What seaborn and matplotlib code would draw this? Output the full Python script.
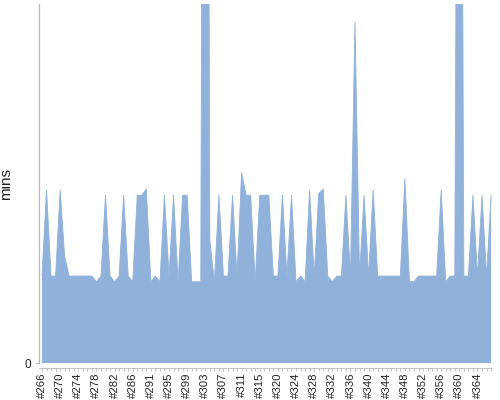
import matplotlib
matplotlib.use("Agg")
import matplotlib.pyplot as plt
import pandas as pd
import seaborn as sns

# run ids (two ids are missing from the sequence: 289 and 318)
run_ids = [i for i in range(266, 370) if i not in (289, 318)][:100]
run_labels = [f"#{i}" for i in run_ids]

# minutes per run
mins = [
    10.0, 19.9, 10.0, 10.0, 19.9, 12.2, 10.0, 10.0, 10.0, 10.0,
    10.0, 10.0, 9.35, 10.0, 19.3, 10.0, 9.35, 10.0, 19.3, 10.0,
    9.35, 19.3, 19.3, 20.0, 9.35, 10.0, 9.35, 19.3, 10.0, 19.3,
    9.35, 19.3, 19.3, 9.35, 9.35, 9.35, 184.0, 14.1, 9.35, 19.3,
    10.0, 10.0, 19.3, 10.0, 21.9, 19.3, 19.3, 9.35, 19.3, 19.3,
    19.3, 10.0, 10.0, 19.3, 10.0, 19.3, 9.35, 10.0, 9.35, 19.9,
    10.0, 19.5, 20.0, 10.0, 9.35, 10.0, 10.0, 19.3, 10.0, 39.2,
    10.0, 19.3, 10.0, 19.9, 10.0, 10.0, 10.0, 10.0, 10.0, 10.0,
    21.2, 9.35, 9.35, 10.0, 10.0, 10.0, 10.0, 10.0, 19.9, 9.35,
    10.0, 10.0, 140.0, 10.0, 10.0, 19.3, 10.0, 19.3, 10.0, 19.3,
]

df = pd.DataFrame({"run": run_labels, "mins": mins})

sns.set_theme(style="white")
plt.rcParams["font.family"] = ["Liberation Sans", "DejaVu Sans"]

fill_color = "#8fb1da"
axis_color = "#b8b8b8"

fig = plt.figure(figsize=(5, 4), dpi=100)
ax = fig.add_axes([38.5 / 500, 1 - 363 / 400, 453.5 / 500, 359 / 400])

sns.lineplot(data=df, x="run", y="mins", sort=False, color=fill_color, lw=0.6, ax=ax)
ax.fill_between(df["run"], df["mins"], 0, color=fill_color, lw=0)

ax.set_xlim(-0.77, 99.2)
ax.set_ylim(0, 41.3)

# every run gets a tick, only every fourth one a label
ax.set_xticks(range(len(run_labels)))
ax.set_xticklabels([lab if k % 4 == 0 else "" for k, lab in enumerate(run_labels)])
ax.set_yticks([0])
ax.set_yticklabels(["0"])

ax.tick_params(axis="x", length=2, width=0.6, color=axis_color, pad=1.5,
               bottom=True, labelrotation=90, labelsize=8.2, labelcolor="#222222")
ax.tick_params(axis="y", length=3, width=0.6, color=axis_color, pad=2, left=True,
               labelsize=8.5, labelcolor="#222222")

ax.set_xlabel("")
ax.set_ylabel("mins", fontsize=11, color="#222222")
ax.yaxis.set_label_coords(-(38.5 - 13) / 453.5, 0.5)

for s in ["top", "right"]:
    ax.spines[s].set_visible(False)
ax.spines["left"].set_color(axis_color)
ax.spines["left"].set_linewidth(0.9)
ax.spines["bottom"].set_color(axis_color)
ax.spines["bottom"].set_linewidth(0.6)
ax.spines["bottom"].set_position(("outward", 3.5))
ax.grid(False)

plt.savefig("out.png", dpi=100)
plt.close()
